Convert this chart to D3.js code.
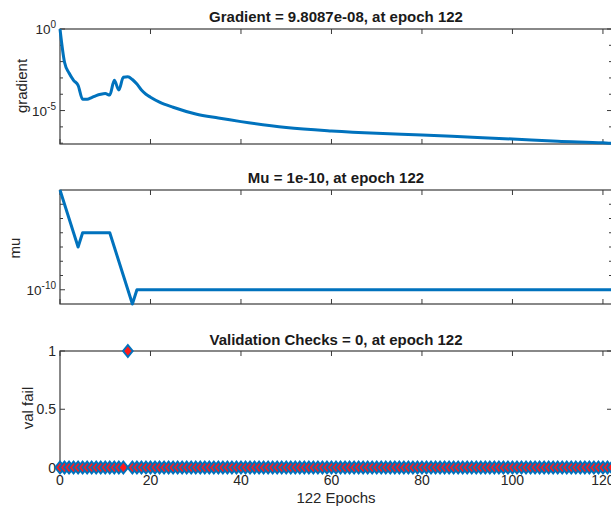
<!DOCTYPE html>
<html>
<head>
<meta charset="utf-8">
<script src="https://cdn.jsdelivr.net/npm/d3@7"></script>
<style>
  body { margin: 0; background: #fff; }
  text { font-family: "Liberation Sans", Arial, sans-serif; fill: #262626; }
</style>
</head>
<body>
<div id="chart"></div>
<script>
// ---- data ----
var numEpochs = 122;
var xTicks = [0, 20, 40, 60, 80, 100, 120];

var gradEpochs = [0,1,2,3,4,5,6,7,8,9,10,11,12,13,14,15,16,17,18,19,20,22,25,30,35,40,50,60,70,80,90,100,110,120,122];
var gradValues = [1, 9.1e-3, 2.0e-3, 7.2e-4, 3.5e-4, 5.0e-5, 5.0e-5, 6.3e-5, 8.3e-5, 1.0e-4, 1.1e-4, 8.9e-5,
                  7.2e-4, 1.8e-4, 1.1e-3, 1.2e-3, 8.0e-4, 4.2e-4, 1.8e-4, 1.0e-4, 6.6e-5, 3.3e-5, 1.6e-5,
                  6.2e-6, 3.5e-6, 2.1e-6, 9.1e-7, 5.6e-7, 4.0e-7, 3.2e-7, 2.4e-7, 1.8e-7, 1.3e-7, 1.05e-7, 9.8087e-8];

var muEpochs = [0,1,2,3,4,5,6,7,8,9,10,11,12,13,14,15,16,17,122];
var muValues = [1e-3,1e-4,1e-5,1e-6,1e-7,1e-6,1e-6,1e-6,1e-6,1e-6,1e-6,1e-6,1e-7,1e-8,1e-9,1e-10,1e-11,1e-10,1e-10];

// validation failures, epoch 0..122
var valFail = [0,0,0,0,0,0,0,0,0,0,0,0,0,0,0,1,0,0,0,0,0,0,0,0,0,0,0,0,0,0,0,0,0,0,0,0,0,0,0,0,
               0,0,0,0,0,0,0,0,0,0,0,0,0,0,0,0,0,0,0,0,0,0,0,0,0,0,0,0,0,0,0,0,0,0,0,0,0,0,0,0,
               0,0,0,0,0,0,0,0,0,0,0,0,0,0,0,0,0,0,0,0,0,0,0,0,0,0,0,0,0,0,0,0,0,0,0,0,0,0,0,0,
               0,0,0];
var valTicks = [0, 0.5, 1];
var valTickLabels = ["0", "0.5", "1"];

var gradTitle = "Gradient = 9.8087e-08, at epoch 122";
var muTitle = "Mu = 1e-10, at epoch 122";
var valTitle = "Validation Checks = 0, at epoch 122";

// ---- layout ----
var W = 611, H = 508;
var left = 60, right = 612;
var blue = "#0072BD";
var axisColor = "#3a3a3a";
var tickLen = 5;

var svg = d3.select("#chart").append("svg")
    .attr("width", W).attr("height", H);

var x = d3.scaleLinear().domain([0, numEpochs]).range([left, right]);

function frame(g, y, top, bottom, yTicks, minorTicks) {
  // x ticks on top & bottom spines, pointing in
  xTicks.forEach(function(t) {
    g.append("line").attr("x1", x(t)).attr("x2", x(t)).attr("y1", top).attr("y2", top + tickLen)
      .attr("stroke", axisColor).attr("stroke-width", 1);
    g.append("line").attr("x1", x(t)).attr("x2", x(t)).attr("y1", bottom).attr("y2", bottom - tickLen)
      .attr("stroke", axisColor).attr("stroke-width", 1);
  });
  yTicks.concat(minorTicks).forEach(function(t) {
    var len = minorTicks.indexOf(t) >= 0 ? 3 : tickLen;
    g.append("line").attr("x1", left).attr("x2", left + len).attr("y1", y(t)).attr("y2", y(t))
      .attr("stroke", axisColor).attr("stroke-width", 1);
    g.append("line").attr("x1", right).attr("x2", right - len).attr("y1", y(t)).attr("y2", y(t))
      .attr("stroke", axisColor).attr("stroke-width", 1);
  });
  g.append("rect").attr("x", left).attr("y", top).attr("width", right - left).attr("height", bottom - top)
    .attr("fill", "none").attr("stroke", axisColor).attr("stroke-width", 1.2);
}

function title(txt, yy) {
  svg.append("text").attr("x", (left + right) / 2).attr("y", yy)
    .attr("text-anchor", "middle").attr("font-size", 15).attr("font-weight", "bold")
    .style("fill", "#1a1a1a").text(txt);
}

function ylabel(txt, xx, yy) {
  svg.append("text").attr("transform", "translate(" + xx + "," + yy + ") rotate(-90)")
    .attr("text-anchor", "middle").attr("font-size", 15).text(txt);
}

function powLabel(g, y, exp) {
  var t = g.append("text").attr("x", left - 4).attr("y", y + 5)
    .attr("text-anchor", "end").attr("font-size", 13.5);
  t.append("tspan").text("10");
  t.append("tspan").attr("dy", -6).attr("font-size", 10).text(exp);
}

// ---- gradient panel ----
var g1 = svg.append("g");
var y1 = d3.scaleLog().domain([Math.pow(10, -7.05), 1]).range([144, 29]);
frame(g1, y1, 29, 144, [1, 1e-5], [1e-1, 1e-2, 1e-3, 1e-4, 1e-6, 1e-7]);
powLabel(g1, y1(1), "0");
powLabel(g1, y1(1e-5), "-5");
g1.append("path")
  .datum(gradEpochs.map(function(e, i) { return [e, gradValues[i]]; }))
  .attr("fill", "none").attr("stroke", blue).attr("stroke-width", 3).attr("stroke-linejoin", "round")
  .attr("d", d3.line().x(function(d) { return x(d[0]); }).y(function(d) { return y1(d[1]); })
    .curve(d3.curveMonotoneX));
title(gradTitle, 21.5);
ylabel("gradient", 27, 86);

// ---- mu panel ----
var g2 = svg.append("g");
var y2 = d3.scaleLog().domain([1e-11, 1e-3]).range([304, 190]);
frame(g2, y2, 190, 304, [1e-10], [1e-4, 1e-5, 1e-6, 1e-7, 1e-8, 1e-9]);
powLabel(g2, y2(1e-10), "-10");
g2.append("path")
  .datum(muEpochs.map(function(e, i) { return [e, muValues[i]]; }))
  .attr("fill", "none").attr("stroke", blue).attr("stroke-width", 3).attr("stroke-linejoin", "round")
  .attr("d", d3.line().x(function(d) { return x(d[0]); }).y(function(d) { return y2(d[1]); }));
title(muTitle, 183);
ylabel("mu", 20, 248);

// ---- validation checks panel ----
var g3 = svg.append("g");
var y3 = d3.scaleLinear().domain([0, 1]).range([467.5, 351]);
frame(g3, y3, 351, 467.5, valTicks, []);
valTicks.forEach(function(t, i) {
  g3.append("text").attr("x", left - 4).attr("y", y3(t) + 5)
    .attr("text-anchor", "end").attr("font-size", 14).text(valTickLabels[i]);
});
xTicks.forEach(function(t) {
  g3.append("text").attr("x", x(t)).attr("y", 485)
    .attr("text-anchor", "middle").attr("font-size", 14).text(t);
});
var dw = 4.8, dh = 6;
g3.selectAll(".vf").data(valFail).enter().append("path")
  .attr("class", "vf")
  .attr("d", function(d, i) {
    var cx = x(i), cy = y3(d);
    return "M" + cx + "," + (cy - dh) + "L" + (cx + dw) + "," + cy + "L" + cx + "," + (cy + dh) +
           "L" + (cx - dw) + "," + cy + "Z";
  })
  .attr("fill", "#ff1a1a").attr("stroke", blue).attr("stroke-width", 2);
title(valTitle, 345);
ylabel("val fail", 33, 408);

svg.append("text").attr("x", (left + right) / 2).attr("y", 503)
  .attr("text-anchor", "middle").attr("font-size", 15).text(numEpochs + " Epochs");
</script>
</body>
</html>
